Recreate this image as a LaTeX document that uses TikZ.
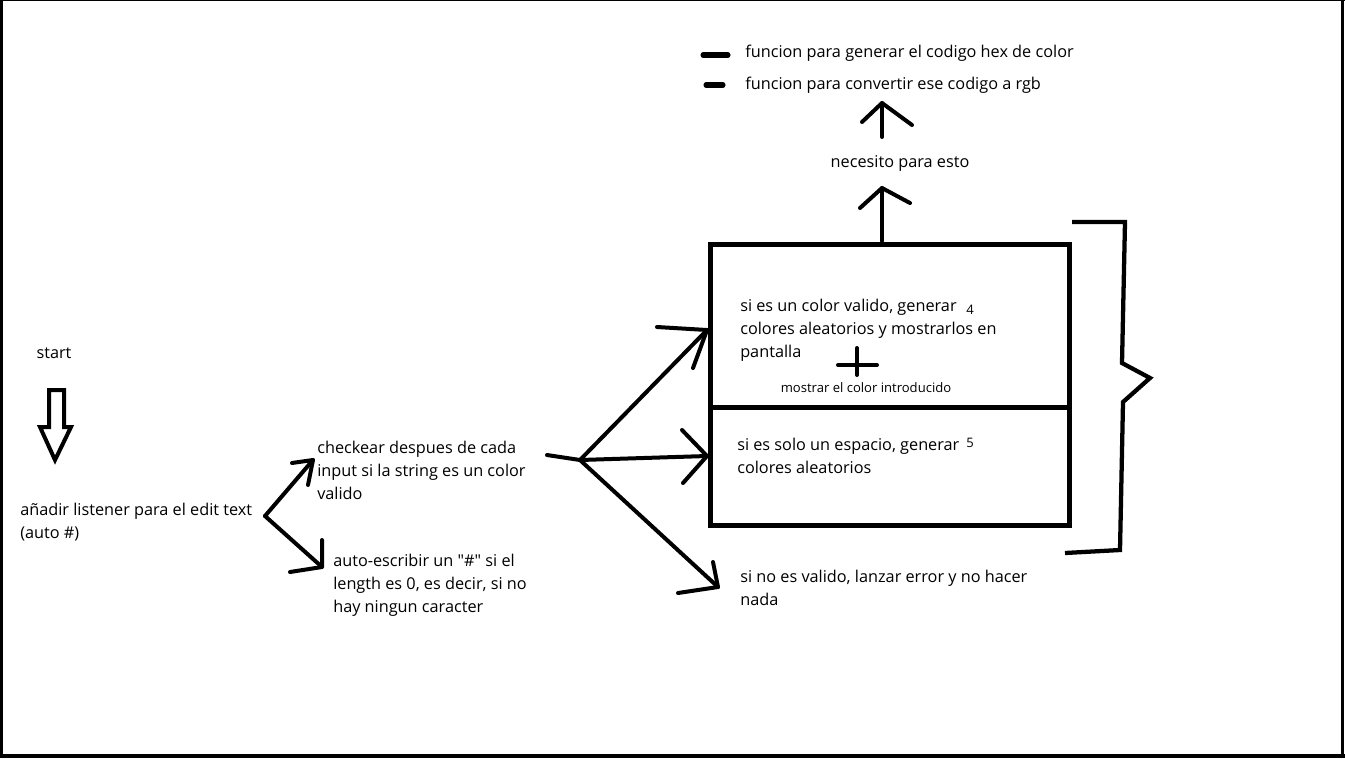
\documentclass[tikz,border=0pt]{standalone}
\usepackage{fontspec}
\setmainfont{Open Sans}[Ligatures=TeXOff]
\begin{document}
\begin{tikzpicture}[x=0.75pt,y=-0.75pt,
  ink/.style={line width=3pt, line cap=round, line join=round},
  boxline/.style={line width=3.4pt},
  txt/.style={font=\fontsize{12.2}{17.25}\selectfont, inner sep=0pt, align=left, anchor=west},
  small/.style={font=\fontsize{9.8}{11}\selectfont, inner sep=0pt},
]
\useasboundingbox (0,0) rectangle (1345,758);
% page frame
\draw[line width=2.2pt] (1.2,0) -- (1.2,758);
\draw[line width=0.9pt] (0,0.6) -- (1345,0.6);
\draw[line width=2.4pt] (1342.6,0) -- (1342.6,758);
\draw[line width=2.6pt] (0,756) -- (1345,756);

% ---- start and hollow arrow
\node[txt, anchor=center] (start) at (54,353) {start};
\draw[line width=3pt, line join=miter] (49,390) -- (64,390) -- (64,427) -- (71,427) -- (55,460) -- (40,427) -- (49,427) -- cycle;

% ---- listener
\node[txt] (listener) at (20,522) {añadir listener para el edit text\\(auto \#)};
\coordinate (fork1) at (265,516);
\coordinate (checktip) at (313,460);
\coordinate (autotip) at (322,567);
\draw[ink] (fork1) -- (checktip);
\draw[ink] (292,463) -- (checktip) -- (308,485);
\draw[ink] (fork1) -- (autotip);
\draw[ink] (322,540) -- (autotip) -- (290,572);

\node[txt] (check) at (317,470) {checkear despues de cada\\input si la string es un color\\valido};
\node[txt] (auto) at (333,585) {auto-escribir un "\#" si el\\length es 0, es decir, si no\\hay ningun caracter};

% ---- fork to the three cases
\coordinate (tail) at (547,455);
\coordinate (fork2) at (580,460);
\coordinate (tipA) at (707,330);
\coordinate (tipB) at (707,456);
\coordinate (tipC) at (718,587);
\draw[ink] (tail) -- (fork2);
\draw[ink] (fork2) -- (tipA);
\draw[ink] (657,327) -- (tipA) -- (693,368);
\draw[ink] (fork2) -- (tipB);
\draw[ink] (682,430) -- (tipB) -- (683,483);
\draw[ink] (fork2) -- (tipC);
\draw[ink] (713,562) -- (tipC) -- (678,593);

% ---- the two-part box
\node[draw, boxline, minimum width=359*0.75pt, minimum height=163*0.75pt, inner sep=0pt, anchor=north west] (upper) at (708,242) {};
\node[draw, boxline, minimum width=359*0.75pt, minimum height=118*0.75pt, inner sep=0pt, anchor=north west] (lower) at (708,405) {};

\node[txt] (valid) at (740,330.5) {si es un color valido, generar\\colores aleatorios y mostrarlos en\\pantalla};
\node[small] (four) at (970,310) {4};
\draw[ink] (838,365) -- (877,365);
\draw[ink] (857,348) -- (857,375);
\node[small] (show) at (866,388) {mostrar el color introducido};

\node[txt] (space) at (737,456) {si es solo un espacio, generar\\colores aleatorios};
\node[small] (five) at (970,443) {5};

\node[txt] (invalid) at (740,588) {si no es valido, lanzar error y no hacer\\nada};

% ---- brace on the right
\draw[ink, line width=3.2pt, line cap=butt, line join=miter]
  (1072,222) -- (1125,222) -- (1122,363) -- (1150,378) -- (1123,402) -- (1120,550) -- (1065,553);

% ---- upward arrows
\coordinate (boxtop) at (882,241);
\coordinate (up1) at (882,188);
\draw[ink] (boxtop) -- (up1);
\draw[ink] (860,208) -- (up1) -- (910,203);
\node[txt, anchor=center] (need) at (900,163) {necesito para esto};
\coordinate (up2base) at (882,137);
\coordinate (up2) at (882,103);
\draw[ink] (up2base) -- (up2);
\draw[ink] (862,122) -- (up2) -- (912,125);

% ---- list of functions
\draw[line width=3.8pt, line cap=round] (703,55) -- (728,55);
\draw[line width=3.8pt, line cap=round] (706,85) -- (723,85);
\node[txt] (fn1) at (745,53) {funcion para generar el codigo hex de color};
\node[txt] (fn2) at (745,85) {funcion para convertir ese codigo a rgb};
\end{tikzpicture}
\end{document}
